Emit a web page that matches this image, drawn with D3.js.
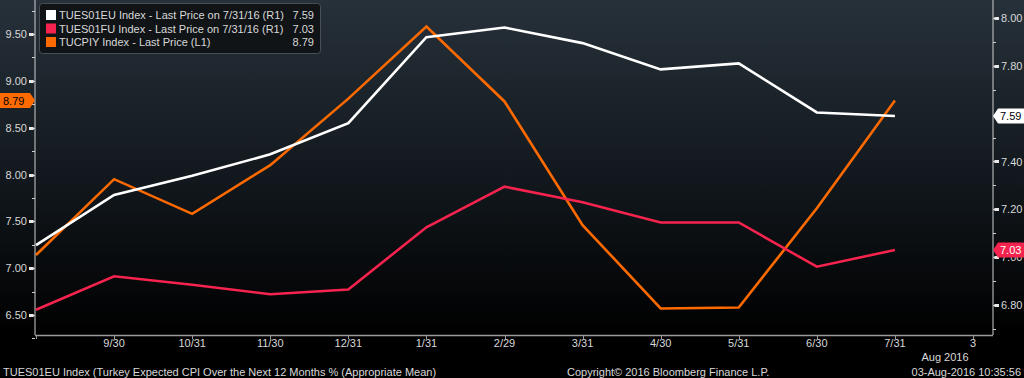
<!DOCTYPE html>
<html>
<head>
<meta charset="utf-8">
<script src="https://cdn.jsdelivr.net/npm/d3@7/dist/d3.min.js"></script>
<style>
  html, body { margin:0; padding:0; background:#000; }
  svg { display:block; }
  text { font-family: "Liberation Sans", Arial, sans-serif; font-size:11px; fill:#d8d8d8; }
</style>
</head>
<body>
<svg id="chart" width="1024" height="378"></svg>
<script>
// month-end observations, last slot is the current day (Aug 3)
const categories = ["8/31","9/30","10/31","11/30","12/31","1/31","2/29","3/31","4/30","5/31","6/30","7/31","3"];
const eu = [7.05, 7.26, 7.34, 7.43, 7.56, 7.92, 7.96, 7.895, 7.785, 7.81, 7.605, 7.59];   // TUES01EU (R1)
const fu = [6.78, 6.92, 6.885, 6.845, 6.865, 7.125, 7.295, 7.23, 7.145, 7.145, 6.96, 7.03]; // TUES01FU (R1)
const cpi = [7.14, 7.95, 7.58, 8.10, 8.81, 9.58, 8.78, 7.46, 6.57, 6.58, 7.64, 8.79];     // TUCPIY (L1)
const leftTicks = [6.5, 7.0, 7.5, 8.0, 8.5, 9.0, 9.5];
const rightTicks = [6.8, 7.0, 7.2, 7.4, 7.8, 8.0];   // 7.60 sits under the last-price tag
const legendRows = [
  {name:"TUES01EU Index - Last Price on 7/31/16 (R1)", last:"7.59", color:"#ffffff"},
  {name:"TUES01FU Index - Last Price on 7/31/16 (R1)", last:"7.03", color:"#f5234d"},
  {name:"TUCPIY Index - Last Price (L1)", last:"8.79", color:"#ff6a00"}
];

const W = 1024, H = 378;
const left = 35, right = 993, bottom = 335;
const svg = d3.select("#chart");

// background gradient
const defs = svg.append("defs");
const grad = defs.append("linearGradient").attr("id","bg")
  .attr("x1",0).attr("y1",0).attr("x2",0).attr("y2",1);
grad.append("stop").attr("offset","0%").attr("stop-color","#27313a");
grad.append("stop").attr("offset","55%").attr("stop-color","#11171c");
grad.append("stop").attr("offset","100%").attr("stop-color","#000000");
svg.append("rect").attr("width",W).attr("height",H).attr("fill","#000");
svg.append("rect").attr("width",W).attr("height",bottom).attr("fill","url(#bg)");

const x = d3.scaleLinear().domain([0, categories.length-1]).range([36, 973]);
const yL = d3.scaleLinear().domain([6.5, 9.5]).range([315, 34]);
const yR = d3.scaleLinear().domain([6.8, 8.0]).range([305, 18]);

// lines
const lineL = d3.line().x((d,i) => x(i)).y(d => yL(d));
const lineR = d3.line().x((d,i) => x(i)).y(d => yR(d));
const g = svg.append("g");
g.append("path").datum(cpi).attr("d", lineL).attr("fill","none")
  .attr("stroke", legendRows[2].color).attr("stroke-width",2.6).attr("stroke-linejoin","miter");
g.append("path").datum(fu).attr("d", lineR).attr("fill","none")
  .attr("stroke", legendRows[1].color).attr("stroke-width",2.6);
g.append("path").datum(eu).attr("d", lineR).attr("fill","none")
  .attr("stroke", legendRows[0].color).attr("stroke-width",2.6);

// left axis
const ax = svg.append("g");
ax.append("line").attr("x1",left).attr("x2",left).attr("y1",0).attr("y2",bottom)
  .attr("stroke","#cfcfcf").attr("stroke-width",1);
const minorL = d3.range(6.25, 9.9, 0.5);
ax.selectAll(".mL").data(minorL).join("line")
  .attr("x1",left-3).attr("x2",left).attr("y1",d=>Math.round(yL(d))+0.5).attr("y2",d=>Math.round(yL(d))+0.5)
  .attr("stroke","#cfcfcf");
ax.selectAll(".tL").data(leftTicks).join("path")
  .attr("d", d => { const yy = Math.round(yL(d))+0.5; return `M${left-6},${yy-1.5}L${left-2},${yy-1.5}L${left},${yy}L${left-2},${yy+1.5}L${left-6},${yy+1.5}Z`; })
  .attr("fill","#e8e8e8");
ax.selectAll(".lL").data(leftTicks).join("text")
  .attr("x", left-8).attr("y", d => yL(d)+4).attr("text-anchor","end")
  .text(d => d.toFixed(2));

// right axis
ax.append("line").attr("x1",right).attr("x2",right).attr("y1",0).attr("y2",bottom)
  .attr("stroke","#cfcfcf").attr("stroke-width",1);
const minorR = d3.range(6.7, 8.05, 0.2);
ax.selectAll(".mR").data(minorR).join("line")
  .attr("x1",right).attr("x2",right+3).attr("y1",d=>Math.round(yR(d))+0.5).attr("y2",d=>Math.round(yR(d))+0.5)
  .attr("stroke","#cfcfcf");
ax.selectAll(".tR").data(rightTicks).join("path")
  .attr("d", d => { const yy = Math.round(yR(d))+0.5; return `M${right+6},${yy-1.5}L${right+2},${yy-1.5}L${right},${yy}L${right+2},${yy+1.5}L${right+6},${yy+1.5}Z`; })
  .attr("fill","#e8e8e8");
ax.selectAll(".lR").data(rightTicks).join("text")
  .attr("x", right+8).attr("y", d => yR(d)+4).attr("text-anchor","start")
  .text(d => d.toFixed(2));

// bottom axis
ax.append("line").attr("x1",left).attr("x2",right).attr("y1",bottom+0.5).attr("y2",bottom+0.5)
  .attr("stroke","#9a9a9a").attr("stroke-width",1.5);
ax.selectAll(".tX").data(categories).join("line")
  .attr("x1",(d,i)=>Math.round(x(i))+0.5).attr("x2",(d,i)=>Math.round(x(i))+0.5)
  .attr("y1",bottom).attr("y2",bottom+4).attr("stroke","#9a9a9a");
ax.selectAll(".lX").data(categories.slice(1)).join("text")
  .attr("x",(d,i)=>x(i+1)).attr("y",bottom+12).attr("text-anchor","middle")
  .text(d => d);
svg.append("text").attr("x", x(categories.length-1)-28).attr("y", bottom+26)
  .attr("text-anchor","middle").text("Aug 2016");

// value tags
function tag(side, yy, label, fill, txt) {
  const h = 15, t = yy;
  let d;
  if (side === "left") d = `M0,${t-h/2}L${left-5},${t-h/2}L${left},${t}L${left-5},${t+h/2}L0,${t+h/2}Z`;
  else d = `M${right+5},${t-h/2}L${W},${t-h/2}L${W},${t+h/2}L${right+5},${t+h/2}L${right},${t}Z`;
  svg.append("path").attr("d", d).attr("fill", fill);
  svg.append("text").attr("x", side === "left" ? 3 : right+7).attr("y", t+4)
    .style("fill", txt).text(label);
}
tag("left", yL(cpi[cpi.length-1]), legendRows[2].last, legendRows[2].color, "#000");
tag("right", yR(eu[eu.length-1]), legendRows[0].last, legendRows[0].color, "#000");
tag("right", yR(fu[fu.length-1]), legendRows[1].last, legendRows[1].color, "#fff");

// legend
const lg = svg.append("g");
lg.append("rect").attr("x",39.5).attr("y",3.5).attr("width",281).attr("height",50).attr("rx",3)
  .attr("fill","#111417").attr("stroke","#4a4f55");
legendRows.forEach((r,i) => {
  const yy = 15 + i*13.5;
  lg.append("rect").attr("x",46).attr("y",yy-5).attr("width",10).attr("height",10).attr("fill",r.color);
  lg.append("text").attr("x",59).attr("y",yy+4).text(r.name);
  lg.append("text").attr("x",314).attr("y",yy+4).attr("text-anchor","end").text(r.last);
});

// footer
svg.append("text").attr("x",3).attr("y",376)
  .text("TUES01EU Index (Turkey Expected CPI Over the Next 12 Months % (Appropriate Mean)");
svg.append("text").attr("x",567).attr("y",376).text("Copyright\u00a9 2016 Bloomberg Finance L.P.");
svg.append("text").attr("x",1021).attr("y",376).attr("text-anchor","end").text("03-Aug-2016 10:35:56");
</script>
</body>
</html>
